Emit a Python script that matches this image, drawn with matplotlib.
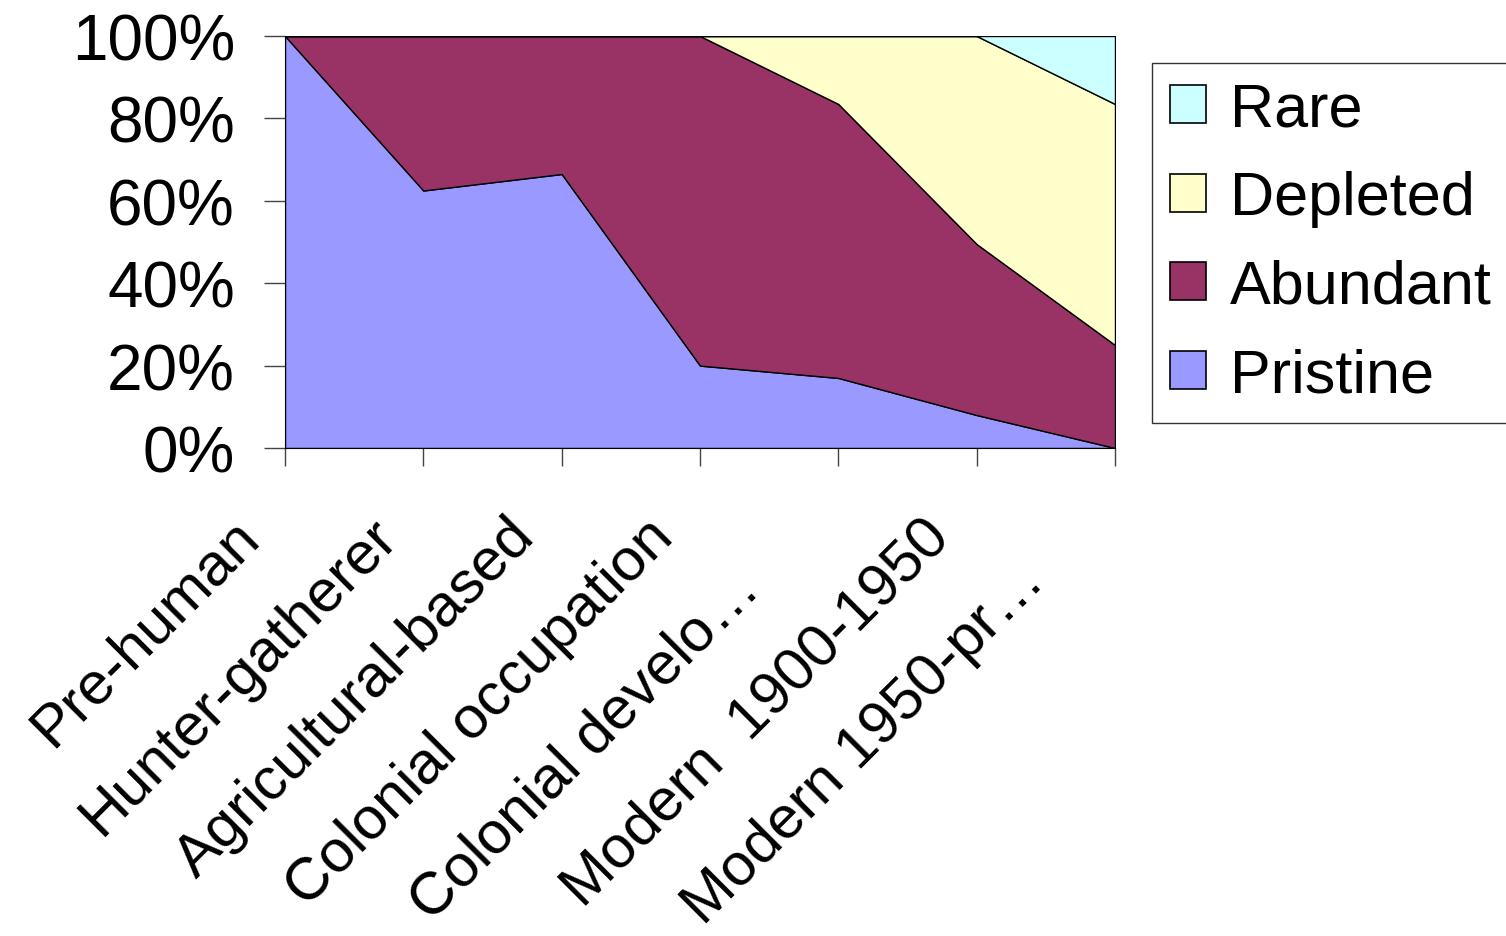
import numpy as np
import matplotlib.pyplot as plt
from matplotlib.patches import Patch
from matplotlib.transforms import ScaledTranslation

# --- Data (share of each state, %) ---
periods = ["Pre-human", "Hunter-gatherer", "Agricultural-based",
           "Colonial occupation", "Colonial develo\u2026",
           "Modern  1900-1950", "Modern 1950-pr\u2026"]
pristine = [100, 62.5, 66.5, 20, 17, 8, 0]
abundant = [0, 37.5, 33.5, 80, 66.5, 41.5, 25]
depleted = [0, 0, 0, 0, 16.5, 50.5, 58.5]
rare = [0, 0, 0, 0, 0, 0, 16.5]

series_names = ["Pristine", "Abundant", "Depleted", "Rare"]
colors = ["#9999FF", "#993366", "#FFFFCC", "#CCFFFF"]

plt.rcParams['font.family'] = ['Liberation Sans', 'DejaVu Sans']

fig = plt.figure(figsize=(15.06, 9.37), dpi=100)
ax = fig.add_axes([285 / 1506, 1 - 449 / 937, 830 / 1506, 412 / 937])

x = np.arange(len(periods))
ax.stackplot(x, pristine, abundant, depleted, rare, colors=colors,
             edgecolor="black", linewidth=1)

ax.set_xlim(0, len(periods) - 1)
ax.set_ylim(0, 100)
ax.set_yticks(np.arange(0, 101, 20))
ax.set_yticklabels([f"{v}%" for v in range(0, 101, 20)])
ax.set_xticks(x)
ax.set_xticklabels(periods, rotation=45, ha="right", va="top",
                   rotation_mode="anchor")

for s in ["top", "right"]:
    ax.spines[s].set_visible(False)
ax.spines["left"].set_color("black")
ax.spines["bottom"].set_color("black")

ax.tick_params(axis="y", length=15, width=1, color="#444444", pad=21, labelsize=46)
ax.tick_params(axis="x", length=13, width=1, color="#444444", pad=0, labelsize=43)

# shift rotated labels like Excel does; truncated ones end a bit earlier
extra_back = [0, 0, 0, 0, 74, 0, 62]  # px back along text direction
for lab, back in zip(ax.get_xticklabels(), extra_back):
    dx = -55 - back * 0.707
    dy = -42 - back * 0.707
    lab.set_transform(lab.get_transform() +
                      ScaledTranslation(dx / 100, dy / 100, fig.dpi_scale_trans))

# --- Legend (top series first) ---
handles = [Patch(facecolor=c, edgecolor="black", linewidth=1.2) for c in colors][::-1]
leg = fig.legend(handles, series_names[::-1], loc="upper left",
                 bbox_to_anchor=(1152 / 1506, 1 - 64 / 937),
                 fontsize=44, frameon=True, fancybox=False,
                 handlelength=0.58, handleheight=0.58, handletextpad=0.4,
                 labelspacing=0.52, borderpad=0.3, borderaxespad=0)
leg.get_frame().set_edgecolor("black")
leg.get_frame().set_linewidth(1)

fig.savefig("out.png", dpi=100)
